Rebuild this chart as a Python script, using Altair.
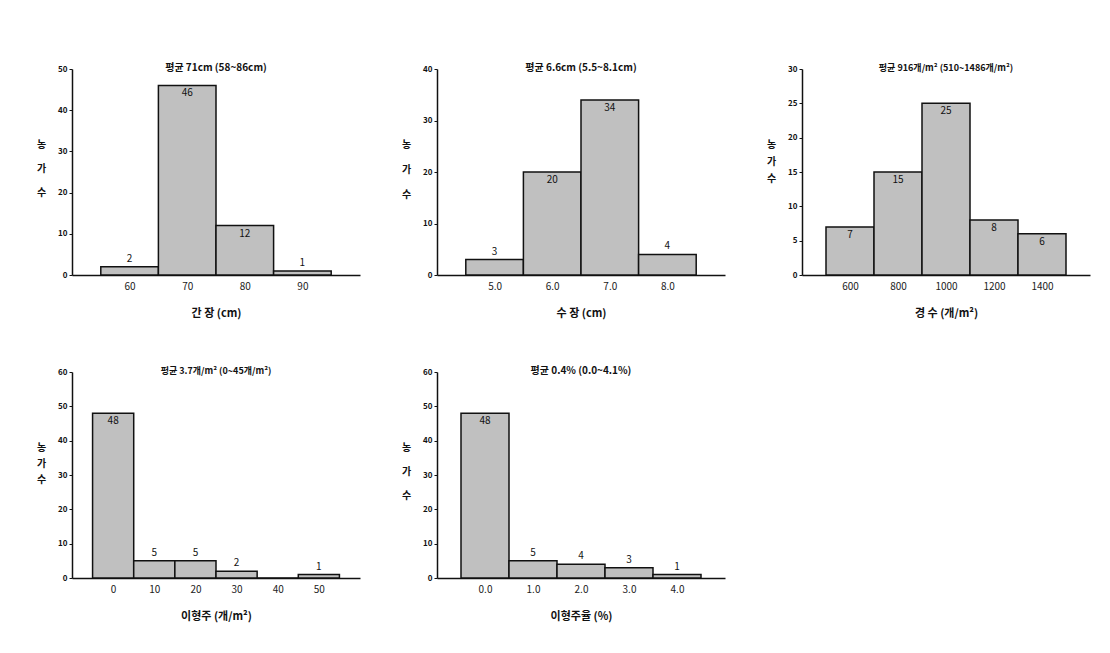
import altair as alt
import pandas as pd

FONT = "Noto Sans CJK KR"

# ---- data ----
p1_x = [60, 70, 80, 90]
p1_n = [2, 46, 12, 1]
p2_x = [5.0, 6.0, 7.0, 8.0]
p2_n = [3, 20, 34, 4]
p3_x = [600, 800, 1000, 1200, 1400]
p3_n = [7, 15, 25, 8, 6]
p4_x = [0, 10, 20, 30, 40, 50]
p4_n = [48, 5, 5, 2, 0, 1]
p5_x = [0.0, 1.0, 2.0, 3.0, 4.0]
p5_n = [48, 5, 4, 3, 1]

titles = [
    "평균 71cm (58~86cm)",
    "평균 6.6cm (5.5~8.1cm)",
    "평균 916개/m² (510~1486개/m²)",
    "평균 3.7개/m² (0~45개/m²)",
    "평균 0.4% (0.0~4.1%)",
]
xtitles = ["간 장 (cm)", "수 장 (cm)", "경 수 (개/m²)", "이형주 (개/m²)", "이형주율 (%)"]
ytitle = ["농", "가", "수"]

W, H = 288, 206


def panel(xs, ns, step, fmt, ymax, ystep, title, xtitle, lh, tsize):
    df = pd.DataFrame({"x": xs, "n": ns})
    xscale = alt.Scale(domain=[xs[0] - step, xs[-1] + step], nice=False, zero=False)
    yscale = alt.Scale(domain=[0, ymax], nice=False)
    xaxis = alt.Axis(values=xs, format=fmt, ticks=False, grid=False, domainColor="#111",
                     domainWidth=1.5, labelPadding=6, labelFontSize=10, labelColor="#222",
                     labelFont=FONT, titleFont=FONT, titleFontSize=11, titleFontWeight="bold",
                     titleColor="#111", titlePadding=16)
    yaxis = alt.Axis(values=list(range(0, ymax + 1, ystep)), grid=False, domainColor="#111",
                     domainWidth=1.5, tickColor="#111", tickSize=3, labelFontSize=8,
                     labelFontWeight="bold", labelColor="#111", labelPadding=2,
                     labelFont=FONT, title=ytitle, titleAngle=0, titleX=-31, titleY=70,
                     titleAlign="center", titleBaseline="top", titleLineHeight=lh,
                     titleFontSize=10, titleFontWeight="bold", titleColor="#111", titleFont=FONT)
    base = alt.Chart(df)
    bars = base.transform_calculate(
        lo=f"datum.x - {step / 2}", hi=f"datum.x + {step / 2}"
    ).mark_bar(fill="#c0c0c0", stroke="#111", strokeWidth=1.5).encode(
        x=alt.X("lo:Q", scale=xscale, axis=xaxis, title=xtitle),
        x2="hi:Q",
        y=alt.Y("n:Q", scale=yscale, axis=yaxis, title=ytitle),
        y2=alt.datum(0),
    )
    inside = base.transform_filter(f"datum.n > 0 && datum.n / {ymax} >= 0.15").mark_text(
        baseline="top", dy=3, fontSize=10, font=FONT, color="#111"
    ).encode(
        x=alt.X("x:Q", scale=xscale, axis=xaxis, title=xtitle),
        y=alt.Y("n:Q", scale=yscale, axis=yaxis, title=ytitle),
        text="n:Q",
    )
    outside = base.transform_filter(f"datum.n > 0 && datum.n / {ymax} < 0.15").mark_text(
        baseline="bottom", dy=-3, fontSize=10, font=FONT, color="#111"
    ).encode(
        x=alt.X("x:Q", scale=xscale, axis=xaxis, title=xtitle),
        y=alt.Y("n:Q", scale=yscale, axis=yaxis, title=ytitle),
        text="n:Q",
    )
    return alt.layer(bars, inside, outside).properties(
        width=W, height=H,
        title=alt.TitleParams(title, fontSize=tsize, fontWeight="bold", font=FONT,
                              color="#111", offset=-8, anchor="middle"),
    )


c1 = panel(p1_x, p1_n, 10, "d", 50, 10, titles[0], xtitles[0], 24, 10)
c2 = panel(p2_x, p2_n, 1.0, ".1f", 40, 10, titles[1], xtitles[1], 25, 10)
c3 = panel(p3_x, p3_n, 200, "d", 30, 5, titles[2], xtitles[2], 17, 9)
c4 = panel(p4_x, p4_n, 10, "d", 60, 10, titles[3], xtitles[3], 16, 9)
c5 = panel(p5_x, p5_n, 1.0, ".1f", 60, 10, titles[4], xtitles[4], 24, 10)

chart = alt.concat(
    c1, c2, c3, c4, c5, columns=3, bounds="flush",
    spacing={"row": 97, "column": 77},
).properties(
    padding={"left": 28, "top": 55, "right": 5, "bottom": 5},
    background="white",
).configure_view(stroke=None)

chart.save("out.html", embed_options={"renderer": "svg", "actions": False})
